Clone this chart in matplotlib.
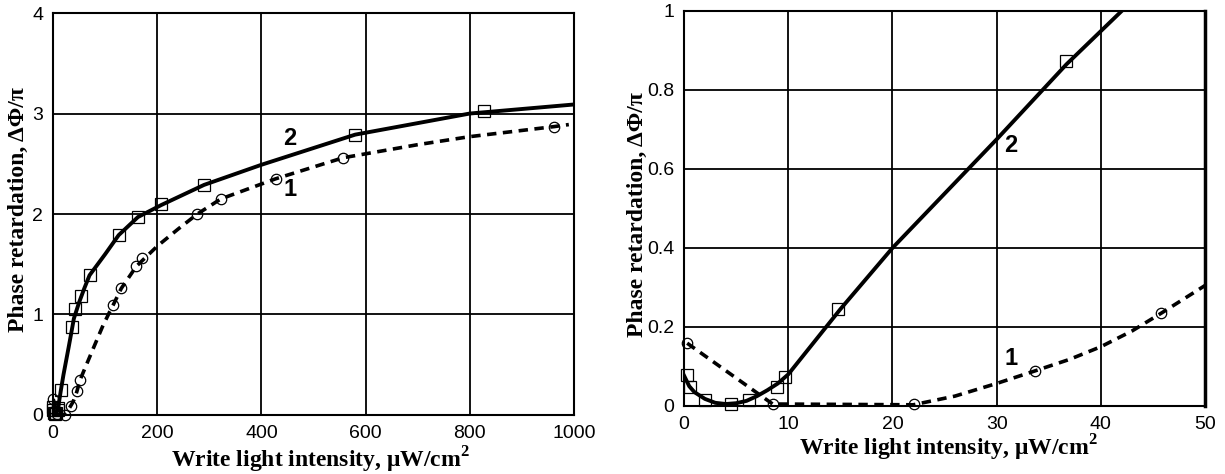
import matplotlib
matplotlib.use("Agg")
import matplotlib.pyplot as plt

plt.rcParams['mathtext.fontset'] = 'custom'
plt.rcParams['mathtext.rm'] = 'Liberation Serif:bold'
plt.rcParams['mathtext.bf'] = 'Liberation Serif:bold'

# --- curve 1 (dashed, circles) and curve 2 (solid, squares) ---
# low intensity range, uW/cm^2
lo_sq_x = [0.3, 0.6, 2.0, 4.5, 6.2, 8.9, 9.7, 14.8, 36.7]
lo_sq_y = [0.078, 0.049, 0.015, 0.005, 0.015, 0.049, 0.074, 0.245, 0.873]
lo_fit2_x = [0, 0.5, 1, 2, 3, 4, 5, 6, 7, 8, 9, 10, 15, 20, 30, 36.7, 42, 50]
lo_fit2_y = [0.077, 0.05, 0.035, 0.018, 0.008, 0.005, 0.007, 0.013, 0.025,
             0.04, 0.057, 0.08, 0.245, 0.4, 0.675, 0.865, 1.0, 1.22]

lo_ci_x = [0.3, 8.5, 22.1, 33.7, 45.8]
lo_ci_y = [0.159, 0.006, 0.004, 0.089, 0.235]
lo_fit1_x = [0.3, 8.5, 22, 26, 30, 33.7, 37, 40, 43, 45.8, 50]
lo_fit1_y = [0.159, 0.005, 0.003, 0.025, 0.057, 0.089, 0.118, 0.15, 0.19, 0.235, 0.305]

# full range, uW/cm^2
hi_sq_x = lo_sq_x + [42, 54, 70, 126, 163, 208, 290, 580, 828]
hi_sq_y = lo_sq_y + [1.05, 1.18, 1.39, 1.79, 1.97, 2.10, 2.29, 2.79, 3.03]
hi_fit2_x = lo_fit2_x[:16] + [40, 50, 60, 70, 100, 126, 163, 208, 290, 400, 580, 800, 1000]
hi_fit2_y = lo_fit2_y[:16] + [0.96, 1.12, 1.26, 1.39, 1.6, 1.79, 1.97, 2.09, 2.29, 2.49, 2.79, 3.0, 3.09]

hi_ci_x = lo_ci_x + [52, 115, 131, 160, 170, 277, 322, 427, 557, 962]
hi_ci_y = lo_ci_y + [0.35, 1.09, 1.26, 1.48, 1.56, 2.0, 2.15, 2.35, 2.56, 2.87]
hi_fit1_x = lo_fit1_x[:10] + [52, 60, 77, 95, 109, 115, 131, 160, 200, 240,
                              277, 322, 427, 557, 700, 800, 962, 990]
hi_fit1_y = lo_fit1_y[:10] + [0.35, 0.45, 0.66, 0.88, 1.03, 1.09, 1.26, 1.48,
                              1.68, 1.85, 2.0, 2.15, 2.35, 2.56, 2.69, 2.77, 2.87, 2.89]

hi_xticks = [0, 200, 400, 600, 800, 1000]
hi_yticks = [0, 1, 2, 3, 4]
lo_xticks = [0, 10, 20, 30, 40, 50]
lo_yticks = [0, 0.2, 0.4, 0.6, 0.8, 1]
lo_ylabels = ['0', '0.2', '0.4', '0.6', '0.8', '1']

xlabel = r'Write light intensity, μW/cm$^{2}$'
ylabel = 'Phase retardation, ΔΦ/π'

tick_font = {'family': ['Liberation Sans Narrow', 'Liberation Sans'], 'size': 14}
lab_font = {'family': 'Liberation Serif', 'weight': 'bold', 'size': 17}
num_font = {'family': 'Liberation Sans', 'weight': 'bold', 'size': 17}

fig = plt.figure(figsize=(12.25, 4.74), dpi=100)
ax1 = fig.add_axes([0.0433, 0.1245, 0.4253, 0.848])
ax2 = fig.add_axes([0.5584, 0.1435, 0.4253, 0.8333])


def setup(ax, xt, yt, ylabs):
    ax.set_xticks(xt)
    ax.set_yticks(yt)
    ax.set_xticklabels([str(v) for v in xt], fontdict=tick_font)
    ax.set_yticklabels(ylabs, fontdict=tick_font)
    ax.set_xlim(xt[0], xt[-1])
    ax.set_ylim(yt[0], yt[-1])
    ax.tick_params(length=0, pad=7)
    ax.grid(True, color='black', linewidth=1.3)
    for s in ax.spines.values():
        s.set_linewidth(1.5)
    ax.set_axisbelow(True)


def draw(ax, f1x, f1y, cx, cy, f2x, f2y, sx, sy):
    ax.plot(f1x, f1y, color='black', linewidth=2.6, linestyle=(0, (2.6, 1.8)),
            dash_capstyle='butt')
    ax.plot(cx, cy, linestyle='none', marker='o', markersize=7.5,
            markerfacecolor='none', markeredgecolor='black', markeredgewidth=0.9,
            clip_on=False)
    ax.plot(f2x, f2y, color='black', linewidth=2.8)
    ax.plot(sx, sy, linestyle='none', marker='s', markersize=8.5,
            markerfacecolor='none', markeredgecolor='black', markeredgewidth=0.9,
            clip_on=False)


setup(ax1, hi_xticks, hi_yticks, [str(v) for v in hi_yticks])
draw(ax1, hi_fit1_x, hi_fit1_y, hi_ci_x, hi_ci_y, hi_fit2_x, hi_fit2_y, hi_sq_x, hi_sq_y)
ax1.text(455, 2.75, '2', fontdict=num_font, ha='center', va='center')
ax1.text(455, 2.24, '1', fontdict=num_font, ha='center', va='center')

setup(ax2, lo_xticks, lo_yticks, lo_ylabels)
draw(ax2, lo_fit1_x, lo_fit1_y, lo_ci_x, lo_ci_y, lo_fit2_x, lo_fit2_y, lo_sq_x, lo_sq_y)
ax2.spines['right'].set_linewidth(2.5)
ax2.text(31.4, 0.66, '2', fontdict=num_font, ha='center', va='center')
ax2.text(31.4, 0.12, '1', fontdict=num_font, ha='center', va='center')

fig.text(320 / 1225, 1 - 460 / 474, xlabel, fontdict=lab_font, ha='center', va='center')
fig.text(948 / 1225, 1 - 448 / 474, xlabel, fontdict=lab_font, ha='center', va='center')
fig.text(18 / 1225, 1 - 210 / 474, ylabel, fontdict=lab_font, ha='center', va='center',
         rotation=90)
fig.text(637 / 1225, 1 - 215 / 474, ylabel, fontdict=lab_font, ha='center', va='center',
         rotation=90)

fig.savefig('out.png', dpi=100)
